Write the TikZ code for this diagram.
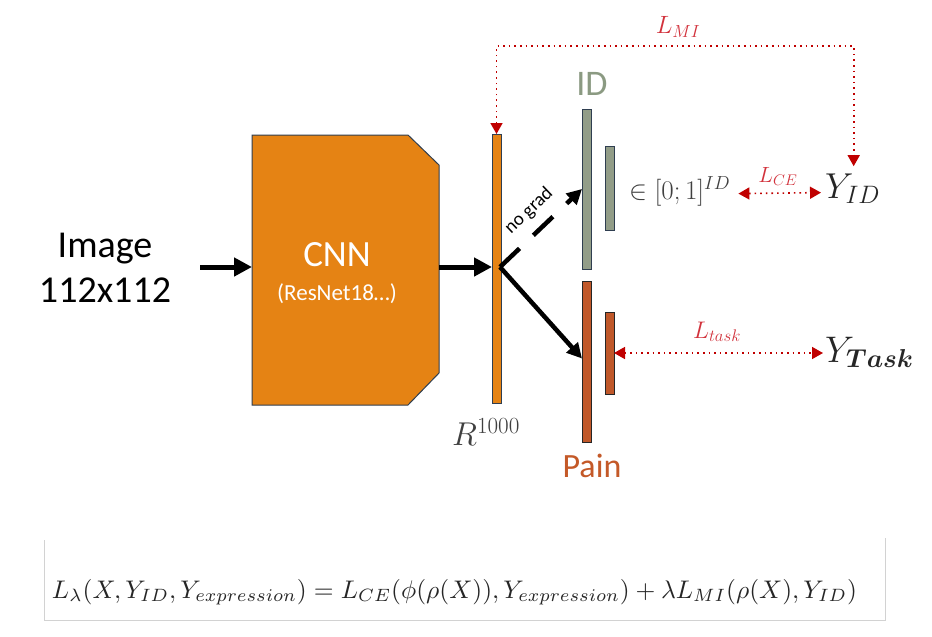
\RequirePackage{fix-cm}
\documentclass[tikz,border=0pt]{standalone}
\usepackage{amsmath}
\usepackage{fontspec}
\setmainfont{Carlito}
\usetikzlibrary{arrows.meta}
\definecolor{cnnorange}{RGB}{229,131,20}
\definecolor{edgeblue}{RGB}{47,62,80}
\definecolor{idgreen}{RGB}{146,157,136}
\definecolor{painred}{RGB}{192,88,42}
\definecolor{idtext}{RGB}{139,154,130}
\definecolor{paintext}{RGB}{196,89,40}
\definecolor{arrowred}{RGB}{192,0,0}
\definecolor{labelred}{RGB}{210,50,60}
\definecolor{mathgray}{RGB}{64,64,64}
\definecolor{framegray}{RGB}{210,210,210}
\begin{document}
\begin{tikzpicture}[x=1pt,y=-1pt,
  bar/.style={draw=edgeblue, line width=1pt, inner sep=0pt, outer sep=0pt, minimum width=9pt},
  bigarrow/.style={line width=5pt, -{Triangle[width=18pt,length=18pt]}},
  brarrow/.style={line width=4.5pt, -{Triangle[width=15pt,length=15pt]}},
  redarrow/.style={arrowred, line width=1.6pt, dash pattern=on 1.6pt off 4pt,
     {Triangle[width=12pt,length=11pt]}-{Triangle[width=12pt,length=11pt]}},
  redlbl/.style={labelred, inner sep=0pt},
  txt/.style={inner sep=0pt}
]
\useasboundingbox (0,0) rectangle (932,637);
\fill[white] (0,0) rectangle (932,637);

% input label
\node[txt, anchor=base, font=\fontsize{38}{44}\selectfont] (imglbl) at (105,257) {Image};
\node[txt, anchor=base, font=\fontsize{38}{44}\selectfont] (imgsize) at (105,302) {112x112};

% CNN block
\node[inner sep=0pt, outer sep=0pt, minimum width=187pt, minimum height=270pt] (cnn) at (345.5,270) {};
\draw[fill=cnnorange, draw=edgeblue, line width=1pt]
  (cnn.north west) -- ([xshift=-31pt]cnn.north east) -- ([yshift=-30pt]cnn.north east)
  -- ([yshift=32pt]cnn.south east) -- ([xshift=-31pt]cnn.south east) -- (cnn.south west) -- cycle;
\node[txt, anchor=base, white, font=\fontsize{37}{40}\selectfont] (cnnlbl) at (337,266) {CNN};
\node[txt, anchor=base, white, font=\fontsize{23}{26}\selectfont] (resnet) at (337,300) {(ResNet18…)};

% representation bar
\node[bar, fill=cnnorange, minimum height=269pt] (rbar) at (496.5,268.5) {};
\node[txt, anchor=base west, mathgray, font=\fontsize{33}{38}\selectfont] (rlbl) at (452,445) {$R^{1000}$};

% ID head
\node[bar, fill=idgreen, minimum height=160pt] (id1) at (586.5,189) {};
\node[bar, fill=idgreen, minimum height=84pt] (id2) at (609.5,188) {};
\node[txt, anchor=base, idtext, font=\fontsize{36}{40}\selectfont] (idlbl) at (592,95) {ID};

% Pain head
\node[bar, draw=black!85, fill=painred, minimum height=161pt] (pain1) at (586.5,361.5) {};
\node[bar, draw=black!85, fill=painred, minimum height=82pt] (pain2) at (609.5,353) {};
\node[txt, anchor=base, paintext, font=\fontsize{34}{38}\selectfont] (painlbl) at (592,477) {Pain};

% outputs
\node[txt, anchor=base west, mathgray, font=\fontsize{27}{30}\selectfont] (in01) at (629,199) {$\in[0;1]^{ID}$};
\node[anchor=base west, inner sep=2pt, black!85, font=\fontsize{36}{40}\selectfont] (yid) at (823,198) {$Y_{ID}$};
\node[anchor=base west, inner sep=2pt, black!85, font=\fontsize{37}{42}\selectfont] (ytask) at (823,362) {$Y_{\boldsymbol{Task}}$};

% black arrows
\coordinate (a0) at (200,267);
\coordinate (br) at (500,267);
\draw[bigarrow] (a0) -- (a0 -| cnn.west);
\draw[bigarrow] (a0 -| cnn.east) -- (a0 -| rbar.west);
\draw[brarrow, dash pattern=on 27pt off 19pt] (br) -- (id1.west);
\draw[brarrow] (br) -- ([yshift=3pt]pain1.west);
\node[txt, rotate=43.5, font=\fontsize{19}{21}\selectfont] (nograd) at (529,211) {no grad};

% red losses
\coordinate (mitop) at (700,46);
\draw[redarrow] (rbar.north) |- (mitop) -| ([xshift=1pt,yshift=5pt]yid.north);
\node[redlbl, anchor=base, font=\fontsize{25}{28}\selectfont] (lmi) at (678,34) {$L_{MI}$};
\draw[redarrow] ([xshift=8pt,yshift=3pt]in01.mid east) -- ([xshift=-2pt,yshift=3pt]yid.mid west);
\node[redlbl, anchor=base, font=\fontsize{22}{26}\selectfont] (lce) at (778,182) {$L_{CE}$};
\draw[redarrow] (pain2.east) -- (pain2.east -| ytask.west);
\node[redlbl, anchor=base, font=\fontsize{24}{28}\selectfont] (ltask) at (717,338) {$L_{task}$};

% formula
\draw[framegray, line width=1pt] (44,540) -- (44,620) -- (885,620) -- (885,538);
\node[txt, anchor=base, black!85] (formula) at (454.5,598) {\resizebox{805pt}{!}{$L_\lambda(X,Y_{ID},Y_{expression})=L_{CE}(\phi(\rho(X)),Y_{expression})+\lambda L_{MI}(\rho(X),Y_{ID})$}};
\end{tikzpicture}
\end{document}
